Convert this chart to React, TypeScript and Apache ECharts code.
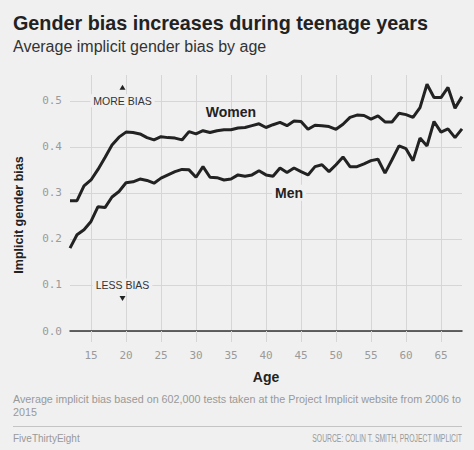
import React, { useEffect, useRef } from "react";
import * as echarts from "echarts";

const ages = [12, 13, 14, 15, 16, 17, 18, 19, 20, 21, 22, 23, 24, 25, 26, 27, 28, 29, 30, 31, 32, 33, 34, 35, 36, 37, 38, 39, 40, 41, 42, 43, 44, 45, 46, 47, 48, 49, 50, 51, 52, 53, 54, 55, 56, 57, 58, 59, 60, 61, 62, 63, 64, 65, 66, 67, 68];

const women = [0.283, 0.283, 0.315, 0.328, 0.351, 0.377, 0.404, 0.421, 0.432, 0.431, 0.428, 0.42, 0.415, 0.422, 0.42, 0.419, 0.415, 0.433, 0.428, 0.435, 0.431, 0.435, 0.437, 0.437, 0.441, 0.442, 0.446, 0.45, 0.442, 0.448, 0.453, 0.446, 0.456, 0.455, 0.438, 0.447, 0.446, 0.444, 0.438, 0.449, 0.464, 0.469, 0.468, 0.46, 0.467, 0.454, 0.454, 0.473, 0.47, 0.464, 0.485, 0.536, 0.507, 0.507, 0.529, 0.484, 0.509];

const men = [0.18, 0.209, 0.22, 0.238, 0.27, 0.268, 0.291, 0.303, 0.322, 0.324, 0.33, 0.327, 0.321, 0.332, 0.339, 0.346, 0.351, 0.35, 0.334, 0.357, 0.334, 0.333, 0.328, 0.33, 0.339, 0.336, 0.339, 0.348, 0.339, 0.336, 0.354, 0.344, 0.354, 0.346, 0.339, 0.357, 0.361, 0.346, 0.361, 0.378, 0.357, 0.357, 0.363, 0.37, 0.373, 0.343, 0.372, 0.402, 0.396, 0.37, 0.419, 0.402, 0.455, 0.432, 0.439, 0.42, 0.439];

const xTicks = [15, 20, 25, 30, 35, 40, 45, 50, 55, 60, 65];

const TITLE = "Gender bias increases during teenage years";
const SUBTITLE = "Average implicit gender bias by age";
const NOTE = "Average implicit bias based on 602,000 tests taken at the Project Implicit website from 2006 to\n2015";
const BRAND = "FiveThirtyEight";
const SOURCE = "SOURCE: COLIN T. SMITH, PROJECT IMPLICIT";

const moreBiasAt = [19.5, 0.5];
const lessBiasAt = [19.5, 0.1];
const womenLabelAt = [35, 0.475];
const menLabelAt = [43.3, 0.3];

const BG = "#f0f0f0";
const GRID = "#d6d6d6";
const SANS = "'Liberation Sans', Arial, Helvetica, sans-serif";
const MONO = "'DejaVu Sans Mono', monospace";

export default function App() {
  const ref = useRef<HTMLDivElement>(null);

  useEffect(() => {
    if (!ref.current) return;
    const chart = echarts.init(ref.current, undefined, { renderer: "svg" });
    chart.setOption({
      animation: false,
      backgroundColor: BG,
      grid: { left: 70, right: 12, top: 75, bottom: 119 },
      xAxis: {
        type: "value",
        min: 12,
        max: 68,
        splitNumber: 11,
        minInterval: 5,
        maxInterval: 5,
        axisLine: { show: true, lineStyle: { color: "#333", width: 1.5 } },
        axisTick: {
          show: true,
          length: 11,
          customValues: xTicks,
          lineStyle: { color: GRID, width: 1 },
        },
        axisLabel: {
          customValues: xTicks,
          margin: 19,
          color: "#9a9a9a",
          fontFamily: MONO,
          fontSize: 11,
        },
        splitLine: {
          show: true,
          lineStyle: { color: GRID, width: 1 },
        },
      },
      yAxis: {
        type: "value",
        min: 0,
        max: 0.556,
        minInterval: 0.1,
        maxInterval: 0.1,
        axisLine: { show: false },
        axisTick: { show: false },
        axisLabel: {
          showMaxLabel: false,
          margin: 8,
          color: "#9a9a9a",
          fontFamily: MONO,
          fontSize: 11,
          formatter: (v: number) => v.toFixed(1),
        },
        splitLine: {
          show: true,
          showMaxLine: false,
          lineStyle: { color: GRID, width: 1 },
        },
      },
      series: [
        {
          name: "Women",
          type: "line",
          data: ages.map((a, i) => [a, women[i]]),
          symbol: "none",
          lineStyle: { color: "#222", width: 3 },
          z: 3,
        },
        {
          name: "Men",
          type: "line",
          data: ages.map((a, i) => [a, men[i]]),
          symbol: "none",
          lineStyle: { color: "#222", width: 3 },
          z: 3,
        },
      ],
    });

    const px = (p: number[]) => chart.convertToPixel({ gridIndex: 0 }, p) as number[];
    const more = px(moreBiasAt);
    const less = px(lessBiasAt);
    const wl = px(womenLabelAt);
    const ml = px(menLabelAt);

    const text = (x: number, y: number, t: string, extra: any = {}) => ({
      type: "text",
      x,
      y,
      z: 10,
      style: {
        text: t,
        fontFamily: SANS,
        fontSize: 12,
        fill: "#222",
        align: "left",
        verticalAlign: "middle",
        ...extra,
      },
    });

    chart.setOption({
      graphic: [
        text(13, 23, TITLE, { fontSize: 19.75, fontWeight: "bold", fill: "#222" }),
        text(13, 46, SUBTITLE, { fontSize: 16, fill: "#333" }),
        text(266, 377, "Age", { fontSize: 14, fontWeight: "bold", align: "center" }),
        {
          type: "text",
          x: 19,
          y: 215,
          rotation: Math.PI / 2,
          z: 10,
          style: {
            text: "Implicit gender bias",
            fontFamily: SANS,
            fontSize: 12.5,
            fontWeight: "bold",
            fill: "#222",
            align: "center",
            verticalAlign: "middle",
          },
        },
        text(more[0], more[1], "MORE BIAS", {
          fontSize: 10.5,
          fill: "#333",
          align: "center",
          backgroundColor: BG,
          padding: [1, 3],
        }),
        {
          type: "polygon",
          z: 10,
          shape: { points: [[more[0] - 3, more[1] - 11], [more[0] + 3, more[1] - 11], [more[0], more[1] - 16]] },
          style: { fill: "#222" },
        },
        text(less[0], less[1], "LESS BIAS", {
          fontSize: 10.5,
          fill: "#333",
          align: "center",
          backgroundColor: BG,
          padding: [1, 3],
        }),
        {
          type: "polygon",
          z: 10,
          shape: { points: [[less[0] - 3, less[1] + 11], [less[0] + 3, less[1] + 11], [less[0], less[1] + 16]] },
          style: { fill: "#222" },
        },
        text(wl[0], wl[1], "Women", { fontSize: 14, fontWeight: "bold", align: "center" }),
        text(ml[0], ml[1], "Men", {
          fontSize: 14,
          fontWeight: "bold",
          align: "center",
          backgroundColor: BG,
          padding: [1, 3],
        }),
        text(13, 405, NOTE, { fontSize: 10.75, fill: "#999", lineHeight: 13 }),
        {
          type: "line",
          z: 10,
          shape: { x1: 13, y1: 426.5, x2: 462, y2: 426.5 },
          style: { stroke: "#c4c4c4", lineWidth: 1 },
        },
        text(13, 438, BRAND, { fontSize: 10, fill: "#999" }),
        {
          type: "text",
          x: 462,
          y: 438,
          scaleX: 0.68,
          z: 10,
          style: {
            text: SOURCE,
            fontFamily: SANS,
            fontSize: 10,
            fill: "#999",
            align: "right",
            verticalAlign: "middle",
          },
        },
      ],
    });

    return () => chart.dispose();
  }, []);

  return (
    <div
      ref={ref}
      style={{ position: "absolute", left: 0, top: 0, width: 474, height: 450, background: BG }}
    />
  );
}
